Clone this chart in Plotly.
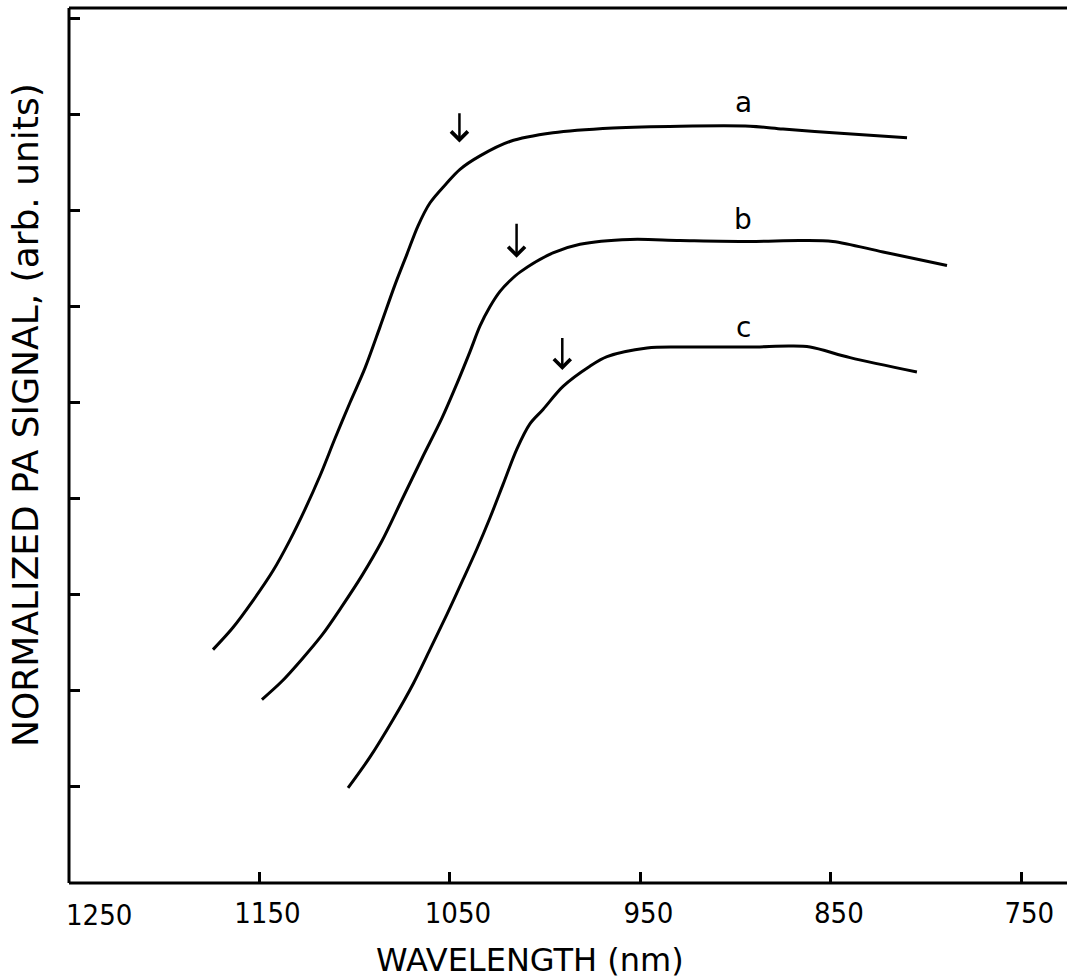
import plotly.graph_objects as go

# ---- data (wavelength in nm, normalized PA signal in arb. units) ----
wl_a = [1174.4, 1163.9, 1153.4, 1142.9, 1134.0, 1126.1, 1118.2, 1110.3, 1102.5, 1094.6,
        1086.7, 1078.8, 1072.5, 1066.8, 1060.5, 1051.5, 1044.7, 1034.2, 1018.5, 995.9,
        964.4, 929.2, 892.4, 875.1, 848.9, 810.0]
sig_a = [2.43, 2.66, 2.94, 3.25, 3.57, 3.89, 4.24, 4.63, 5.00, 5.36,
         5.79, 6.23, 6.55, 6.84, 7.08, 7.29, 7.43, 7.57, 7.72, 7.81,
         7.86, 7.88, 7.88, 7.85, 7.81, 7.76]

wl_b = [1148.7, 1138.2, 1127.7, 1117.2, 1106.7, 1096.2, 1085.7, 1075.2, 1064.7, 1054.2,
        1046.3, 1039.5, 1034.2, 1029.0, 1023.7, 1018.5, 1013.2, 995.9, 981.7, 955.4,
        929.2, 892.4, 866.2, 848.9, 822.6, 789.0]
sig_b = [1.91, 2.10, 2.33, 2.58, 2.88, 3.20, 3.56, 3.99, 4.42, 4.84,
         5.20, 5.53, 5.80, 6.00, 6.16, 6.27, 6.36, 6.56, 6.65, 6.70,
         6.69, 6.68, 6.69, 6.68, 6.57, 6.43]

wl_c = [1103.5, 1092.0, 1079.9, 1069.4, 1060.5, 1051.5, 1043.1, 1035.8, 1029.0, 1022.1,
        1014.8, 1008.0, 1001.1, 990.6, 976.5, 967.5, 946.5, 929.2, 892.4, 871.4,
        860.9, 839.9, 804.8]
sig_c = [0.99, 1.31, 1.70, 2.07, 2.43, 2.80, 3.16, 3.48, 3.80, 4.15,
         4.52, 4.78, 4.93, 5.17, 5.38, 5.48, 5.57, 5.58, 5.58, 5.59,
         5.58, 5.47, 5.32]

curve_names = ["a", "b", "c"]
curve_wl = [wl_a, wl_b, wl_c]
curve_sig = [sig_a, sig_b, sig_c]

# curve label positions
label_wl = [896, 896, 896]
label_sig = [8.13, 6.91, 5.78]

# band-edge arrows: wavelength, arrow tail and head signal
arrow_wl = [1045, 1015, 991]
arrow_tail = [8.03, 6.88, 5.69]
arrow_head = [7.71, 6.51, 5.34]

x_ticks = [1250, 1150, 1050, 950, 850, 750]
x_ticktext = ["", "1150", "1050", "950", "850", "750"]
y_ticks = [1, 2, 3, 4, 5, 6, 7, 8, 9]

FONT_C = "DejaVu Sans Condensed, DejaVu Sans, sans-serif"
FONT = "DejaVu Sans, sans-serif"

fig = go.Figure()
for name, xs, ys in zip(curve_names, curve_wl, curve_sig):
    fig.add_trace(go.Scatter(x=xs, y=ys, mode="lines", name=name,
                             line=dict(color="black", width=3, shape="spline", smoothing=0.9),
                             showlegend=False, hoverinfo="skip"))

annotations = []
for name, lx, ly in zip(curve_names, label_wl, label_sig):
    annotations.append(dict(x=lx, y=ly, xref="x", yref="y", text=name, showarrow=False,
                            font=dict(family=FONT, size=28, color="black")))
for ax_, t, h in zip(arrow_wl, arrow_tail, arrow_head):
    annotations.append(dict(x=ax_, y=h, ax=ax_, ay=t, xref="x", yref="y", axref="x", ayref="y",
                            text="", showarrow=True, arrowhead=4, arrowsize=1.3,
                            arrowwidth=2.5, arrowcolor="black"))
# first tick label sits right of the axis corner
annotations.append(dict(x=1250, y=0, xref="x", yref="y", text="1250", showarrow=False,
                        xanchor="left", yanchor="top", yshift=-13, xshift=-5,
                        font=dict(family=FONT_C, size=29, color="black")))
annotations.append(dict(x=0.462, y=-0.088, xref="paper", yref="paper", text="WAVELENGTH (nm)",
                        showarrow=False, xanchor="center", yanchor="middle",
                        font=dict(family=FONT, size=32, color="black")))
annotations.append(dict(x=-0.043, y=0.535, xref="paper", yref="paper",
                        text="NORMALIZED PA SIGNAL, (arb. units)", textangle=-90,
                        showarrow=False, xanchor="center", yanchor="middle",
                        font=dict(family=FONT, size=36, color="black")))

frame = dict(color="black", width=3)
fig.update_layout(
    width=1067, height=979,
    margin=dict(l=69, r=0, t=8, b=96),
    paper_bgcolor="white", plot_bgcolor="white",
    annotations=annotations,
    shapes=[
        # white strip masking the right edge of the plot area (reference has no right frame)
        dict(type="rect", xref="paper", yref="paper", x0=0.994, x1=1.01, y0=-0.01, y1=1.01,
             fillcolor="white", line=dict(width=0), layer="above"),
        dict(type="line", xref="paper", yref="paper", x0=0, x1=1, y0=1, y1=1, line=frame),
        dict(type="line", xref="paper", yref="paper", x0=0, x1=1, y0=0, y1=0, line=frame),
        dict(type="line", xref="paper", yref="paper", x0=0, x1=0, y0=0, y1=1, line=frame),
    ],
    xaxis=dict(range=[1250, 726], tickvals=x_ticks, ticktext=x_ticktext,
               showgrid=False, zeroline=False, showline=False,
               ticks="inside", ticklen=11,
               tickwidth=2.5, tickcolor="black", ticklabelstandoff=10, ticklabelshift=-8,
               tickfont=dict(family=FONT_C, size=29, color="black")),
    yaxis=dict(range=[0, 9.11], tickvals=y_ticks, showticklabels=False,
               showgrid=False, zeroline=False, showline=False,
               ticks="inside", ticklen=11,
               tickwidth=2.5, tickcolor="black"),
)

fig.write_html("out.html", config={"displayModeBar": False})
